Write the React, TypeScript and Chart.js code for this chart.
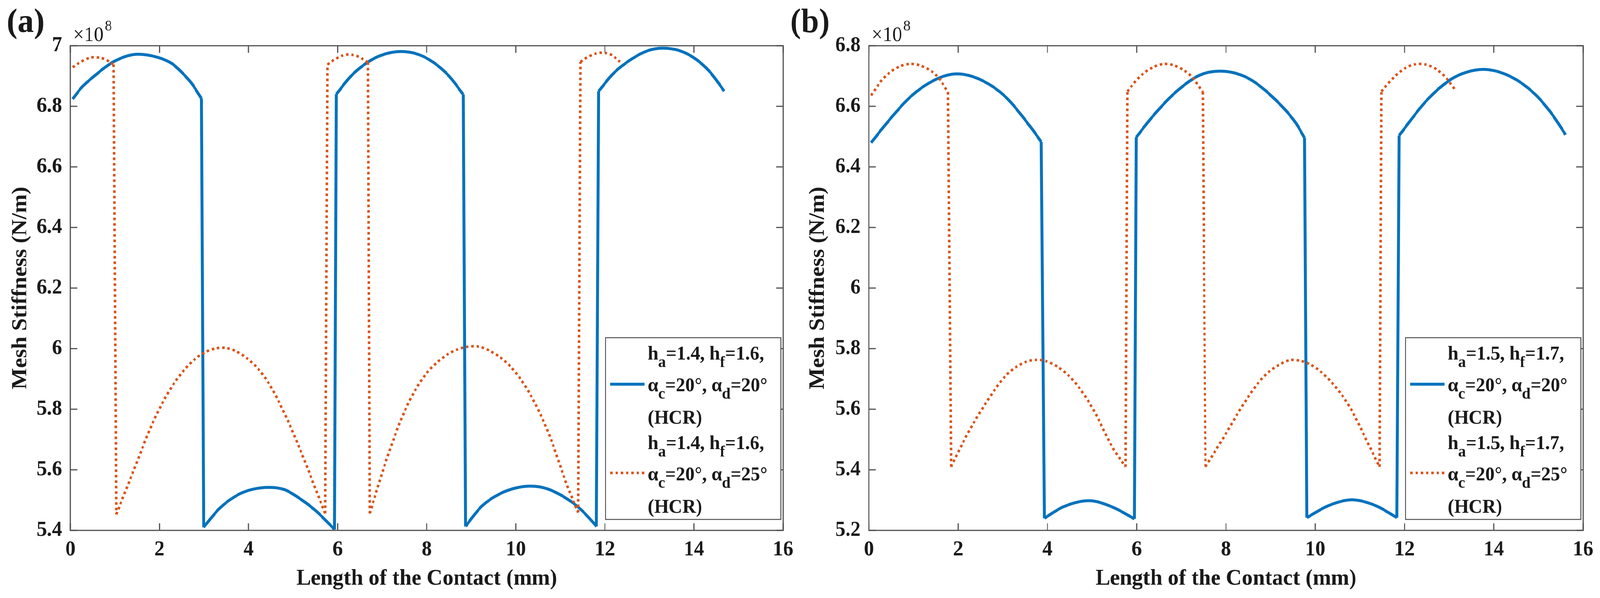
import React, { useEffect, useRef } from "react";
import { Chart, registerables } from "chart.js";

Chart.register(...registerables);

const SERIF = "'Liberation Serif', 'Times New Roman', serif";
const BLUE = "#0072BD";
const ORANGE = "#D95319";
const AXIS = "#505050";
const TEXT = "#1a1a1a";
const TICK_LEN = 18;
const FIG_W = 4248;
const FIG_H = 1530;
const BLUE_W = 7.5;
const ORANGE_W = 6.5;
const ORANGE_DASH = [6.5, 7.5];

// shared x ticks (mm)
const xTicks = [0, 2, 4, 6, 8, 10, 12, 14, 16];

// ---------- panel (a) : h_a=1.4, h_f=1.6 ----------
const aYTicks = [5.4, 5.6, 5.8, 6, 6.2, 6.4, 6.6, 6.8, 7];

const aBlueX = [
  0.05, 0.25, 0.48, 0.99, 1.52, 1.95, 2.29, 2.5, 2.72, 2.94,
  2.99, 3.35, 3.78, 4.1, 4.45, 4.8, 5.08, 5.5, 5.93,
  5.97, 6.3, 6.7, 7.05, 7.42, 7.8, 8.15, 8.5, 8.82,
  8.87, 9.23, 9.66, 10.0, 10.33, 10.73, 11.29, 11.55, 11.81,
  11.86, 12.2, 12.6, 12.95, 13.28, 13.65, 14.0, 14.35, 14.68,
];
const aBlueY = [
  6.824, 6.862, 6.893, 6.949, 6.972, 6.962, 6.94, 6.912, 6.876, 6.826,
  5.41, 5.473, 5.519, 5.536, 5.542, 5.535, 5.512, 5.466, 5.403,
  6.84, 6.9, 6.948, 6.972, 6.981, 6.972, 6.945, 6.9, 6.839,
  5.413, 5.479, 5.522, 5.54, 5.546, 5.536, 5.49, 5.456, 5.413,
  6.85, 6.91, 6.956, 6.983, 6.992, 6.985, 6.96, 6.915, 6.85,
];

const aOrangeX = [
  0.05, 0.25, 0.5, 0.75, 0.97,
  1.03, 1.42, 1.85, 2.28, 2.71, 3.05, 3.42, 4.0, 4.43, 4.86, 5.29, 5.55, 5.72,
  5.77, 5.97, 6.22, 6.45, 6.68,
  6.72, 7.09, 7.51, 7.94, 8.37, 8.7, 9.08, 9.45, 9.88, 10.3, 10.73, 11.16, 11.4,
  11.45, 11.66, 11.91, 12.13, 12.34,
];
const aOrangeY = [
  6.929, 6.948, 6.962, 6.957, 6.938,
  5.453, 5.598, 5.756, 5.875, 5.954, 5.99, 6.003, 5.964, 5.891, 5.769, 5.618, 5.519, 5.456,
  6.938, 6.958, 6.971, 6.965, 6.945,
  5.456, 5.631, 5.796, 5.908, 5.971, 5.998, 6.008, 5.99, 5.941, 5.855, 5.723, 5.545, 5.459,
  6.947, 6.966, 6.977, 6.971, 6.947,
];

const aLegend = [
  ["h_a=1.4, h_f=1.6,", "α_c=20°, α_d=20°", "(HCR)"],
  ["h_a=1.4, h_f=1.6,", "α_c=20°, α_d=25°", "(HCR)"],
];

// ---------- panel (b) : h_a=1.5, h_f=1.7 ----------
const bYTicks = [5.2, 5.4, 5.6, 5.8, 6, 6.2, 6.4, 6.6, 6.8];

const bBlueX = [
  0.05, 0.39, 0.92, 1.46, 1.97, 2.54, 3.07, 3.61, 3.86,
  3.93, 4.36, 4.93, 5.44, 5.95,
  5.99, 6.33, 6.86, 7.4, 7.86, 8.48, 9.02, 9.55, 9.76,
  9.81, 10.3, 10.82, 11.35, 11.83,
  11.88, 12.5, 13.04, 13.4, 13.76, 14.38, 14.91, 15.3, 15.61,
];
const bBlueY = [
  6.48, 6.543, 6.63, 6.686, 6.707, 6.685, 6.63, 6.534, 6.483,
  5.24, 5.278, 5.298, 5.278, 5.238,
  6.498, 6.562, 6.645, 6.702, 6.716, 6.694, 6.634, 6.548, 6.496,
  5.242, 5.282, 5.301, 5.282, 5.242,
  6.504, 6.62, 6.689, 6.713, 6.722, 6.698, 6.642, 6.575, 6.506,
];

const bOrangeX = [
  0.05, 0.3, 0.6, 0.95, 1.3, 1.55, 1.77,
  1.84, 2.22, 2.65, 3.08, 3.51, 3.79, 4.16, 4.59, 5.02, 5.45, 5.75,
  5.79, 6.05, 6.35, 6.65, 6.95, 7.25, 7.48,
  7.54, 7.98, 8.41, 8.84, 9.27, 9.48, 9.91, 10.34, 10.77, 11.2, 11.44,
  11.48, 11.75, 12.05, 12.34, 12.65, 12.92, 13.14,
];
const bOrangeY = [
  6.636, 6.688, 6.725, 6.74, 6.725, 6.696, 6.647,
  5.41, 5.522, 5.627, 5.713, 5.756, 5.763, 5.746, 5.693, 5.601, 5.476, 5.41,
  6.649, 6.695, 6.728, 6.74, 6.728, 6.695, 6.647,
  5.41, 5.515, 5.621, 5.707, 5.753, 5.763, 5.746, 5.693, 5.608, 5.482, 5.41,
  6.649, 6.694, 6.729, 6.74, 6.728, 6.696, 6.653,
];

const bLegend = [
  ["h_a=1.5, h_f=1.7,", "α_c=20°, α_d=20°", "(HCR)"],
  ["h_a=1.5, h_f=1.7,", "α_c=20°, α_d=25°", "(HCR)"],
];

const fmt = (v: number | string) => String(Number(Number(v).toFixed(1)));

type Pt = { x: number; y: number | null };

// split a series at its vertical jumps: smooth arcs + straight jump lines
function splitAtJumps(xs: number[], ys: number[]) {
  const arcs: Pt[] = [];
  const jumps: Pt[] = [];
  for (let i = 0; i < xs.length; i++) {
    if (i > 0 && Math.abs(ys[i] - ys[i - 1]) > 0.3) {
      arcs.push({ x: (xs[i] + xs[i - 1]) / 2, y: null });
      jumps.push({ x: xs[i - 1], y: ys[i - 1] }, { x: xs[i], y: ys[i] }, { x: xs[i], y: null });
    }
    arcs.push({ x: xs[i], y: ys[i] });
  }
  return { arcs, jumps };
}

// text with one-letter subscripts written as _x
function drawRich(ctx: CanvasRenderingContext2D, text: string, x: number, y: number) {
  let cx = x;
  let run = "";
  const flush = () => {
    if (!run) return;
    ctx.font = `bold 50px ${SERIF}`;
    ctx.fillText(run, cx, y);
    cx += ctx.measureText(run).width;
    run = "";
  };
  for (let i = 0; i < text.length; i++) {
    if (text[i] === "_" && i + 1 < text.length) {
      flush();
      ctx.font = `bold 40px ${SERIF}`;
      ctx.fillText(text[i + 1], cx, y + 19);
      cx += ctx.measureText(text[i + 1]).width;
      i++;
    } else {
      run += text[i];
    }
  }
  flush();
}

type PanelProps = {
  left: number;
  width: number;
  plotLeft: number;
  rightPad: number;
  yTitlePad: number;
  label: string;
  labelX: number;
  blueX: number[];
  blueY: number[];
  orangeX: number[];
  orangeY: number[];
  yMin: number;
  yMax: number;
  yTicks: number[];
  legend: string[][];
};

function Panel(p: PanelProps) {
  const canvasRef = useRef<HTMLCanvasElement | null>(null);
  const chartRef = useRef<Chart | null>(null);

  useEffect(() => {
    if (!canvasRef.current) return;
    const ctx = canvasRef.current.getContext("2d");
    if (!ctx) return;
    if (chartRef.current) chartRef.current.destroy();

    const blue = splitAtJumps(p.blueX, p.blueY);
    const orange = splitAtJumps(p.orangeX, p.orangeY);

    // box, inward ticks, exponent, panel label and the legend
    const decor = {
      id: "decor",
      afterDraw(chart: Chart) {
        const c = chart.ctx;
        const ca = chart.chartArea;
        const xs = chart.scales.x;
        const ys = chart.scales.y;
        c.save();
        c.strokeStyle = AXIS;
        c.lineWidth = 3;
        c.beginPath();
        xTicks.forEach((v) => {
          const px = xs.getPixelForValue(v);
          c.moveTo(px, ca.bottom);
          c.lineTo(px, ca.bottom - TICK_LEN);
          c.moveTo(px, ca.top);
          c.lineTo(px, ca.top + TICK_LEN);
        });
        p.yTicks.forEach((v) => {
          const py = ys.getPixelForValue(v);
          c.moveTo(ca.left, py);
          c.lineTo(ca.left + TICK_LEN, py);
          c.moveTo(ca.right, py);
          c.lineTo(ca.right - TICK_LEN, py);
        });
        c.stroke();
        c.strokeRect(ca.left, ca.top, ca.right - ca.left, ca.bottom - ca.top);

        // ×10^8
        c.fillStyle = TEXT;
        c.textAlign = "left";
        c.textBaseline = "alphabetic";
        c.font = `52px ${SERIF}`;
        const ex = ca.left + 7;
        const eb = ca.top - 12;
        c.fillText("×10", ex, eb);
        const ew = c.measureText("×10").width;
        c.font = `38px ${SERIF}`;
        c.fillText("8", ex + ew + 3, eb - 27);

        // (a) / (b)
        c.font = `bold 86px ${SERIF}`;
        c.fillText(p.label, p.labelX, 82);

        // legend
        const bw = 465;
        const bh = 465;
        const bx = ca.right - 6 - bw;
        const by = ca.bottom - 28 - bh;
        c.fillStyle = "#ffffff";
        c.fillRect(bx, by, bw, bh);
        c.strokeStyle = AXIS;
        c.lineWidth = 2.5;
        c.strokeRect(bx, by, bw, bh);
        const baselines = [
          [56, 137, 220],
          [285, 365, 448],
        ];
        const sampleY = [119, 346];
        const colors = [BLUE, ORANGE];
        p.legend.forEach((lines, k) => {
          c.beginPath();
          c.strokeStyle = colors[k];
          c.lineWidth = k === 0 ? BLUE_W : ORANGE_W;
          c.setLineDash(k === 0 ? [] : ORANGE_DASH);
          c.moveTo(bx + 12, by + sampleY[k]);
          c.lineTo(bx + 103, by + sampleY[k]);
          c.stroke();
          c.setLineDash([]);
          c.fillStyle = TEXT;
          lines.forEach((t, j) => drawRich(c, t, bx + 112, by + baselines[k][j]));
        });
        c.restore();
      },
    };

    const orangeStyle = {
      borderColor: ORANGE,
      backgroundColor: ORANGE,
      borderWidth: ORANGE_W,
      borderDash: ORANGE_DASH,
      pointRadius: 0,
      fill: false,
      order: 1,
    };
    const blueStyle = {
      borderColor: BLUE,
      backgroundColor: BLUE,
      borderWidth: BLUE_W,
      pointRadius: 0,
      fill: false,
      order: 2,
    };

    chartRef.current = new Chart(ctx, {
      type: "line",
      data: {
        datasets: [
          { label: "ad25 arcs", data: orange.arcs, cubicInterpolationMode: "monotone", ...orangeStyle },
          { label: "ad25 jumps", data: orange.jumps, tension: 0, ...orangeStyle },
          { label: "ad20 arcs", data: blue.arcs, cubicInterpolationMode: "monotone", ...blueStyle },
          { label: "ad20 jumps", data: blue.jumps, tension: 0, ...blueStyle },
        ],
      },
      options: {
        animation: false,
        responsive: true,
        maintainAspectRatio: false,
        spanGaps: false,
        layout: { padding: { left: 0, right: p.rightPad, top: 117, bottom: 0 } },
        plugins: {
          legend: { display: false },
          tooltip: { enabled: false },
        },
        scales: {
          x: {
            type: "linear",
            min: 0,
            max: 16,
            grid: { display: false, drawTicks: false },
            border: { display: false },
            afterBuildTicks: (s: any) => {
              s.ticks = xTicks.map((v) => ({ value: v }));
            },
            afterFit: (s: any) => {
              s.height = 173;
            },
            ticks: {
              autoSkip: false,
              maxRotation: 0,
              padding: 18,
              color: TEXT,
              font: { family: SERIF, size: 54, weight: "bold" },
              callback: (v: any) => fmt(v),
            },
            title: {
              display: true,
              text: "Length of the Contact (mm)",
              color: TEXT,
              font: { family: SERIF, size: 58, weight: "bold" },
              padding: { top: 0, bottom: 14 },
            },
          },
          y: {
            type: "linear",
            min: p.yMin,
            max: p.yMax,
            grid: { display: false, drawTicks: false },
            border: { display: false },
            afterBuildTicks: (s: any) => {
              s.ticks = p.yTicks.map((v) => ({ value: v }));
            },
            afterFit: (s: any) => {
              s.width = p.plotLeft;
            },
            ticks: {
              autoSkip: false,
              padding: 22,
              color: TEXT,
              font: { family: SERIF, size: 54, weight: "bold" },
              callback: (v: any) => fmt(v),
            },
            title: {
              display: true,
              text: "Mesh Stiffness (N/m)",
              color: TEXT,
              font: { family: SERIF, size: 58, weight: "bold" },
              padding: { top: p.yTitlePad, bottom: 0 },
            },
          },
        },
      },
      plugins: [decor],
    } as any);

    return () => {
      if (chartRef.current) {
        chartRef.current.destroy();
        chartRef.current = null;
      }
    };
  }, []);

  return (
    <div
      style={{
        position: "absolute",
        left: p.left,
        top: 0,
        width: p.width,
        height: FIG_H,
      }}
    >
      <canvas ref={canvasRef} />
    </div>
  );
}

export default function App() {
  // the window may come out narrower than the figure; squeeze to fit it
  const sx = Math.min(1, (window.innerWidth || FIG_W) / FIG_W);
  const sy = Math.min(1, (window.innerHeight || FIG_H) / FIG_H);
  return (
    <div
      style={{
        position: "absolute",
        left: 0,
        top: 0,
        width: FIG_W,
        height: FIG_H,
        background: "#ffffff",
        overflow: "hidden",
        transform: `scale(${sx}, ${sy})`,
        transformOrigin: "0 0",
      }}
    >
      <Panel
        left={0}
        width={2124}
        plotLeft={187}
        rightPad={41}
        yTitlePad={20}
        label="(a)"
        labelX={18}
        blueX={aBlueX}
        blueY={aBlueY}
        orangeX={aOrangeX}
        orangeY={aOrangeY}
        yMin={5.4}
        yMax={7}
        yTicks={aYTicks}
        legend={aLegend}
      />
      <Panel
        left={2090}
        width={2158}
        plotLeft={217}
        rightPad={44}
        yTitlePad={47}
        label="(b)"
        labelX={8}
        blueX={bBlueX}
        blueY={bBlueY}
        orangeX={bOrangeX}
        orangeY={bOrangeY}
        yMin={5.2}
        yMax={6.8}
        yTicks={bYTicks}
        legend={bLegend}
      />
    </div>
  );
}
